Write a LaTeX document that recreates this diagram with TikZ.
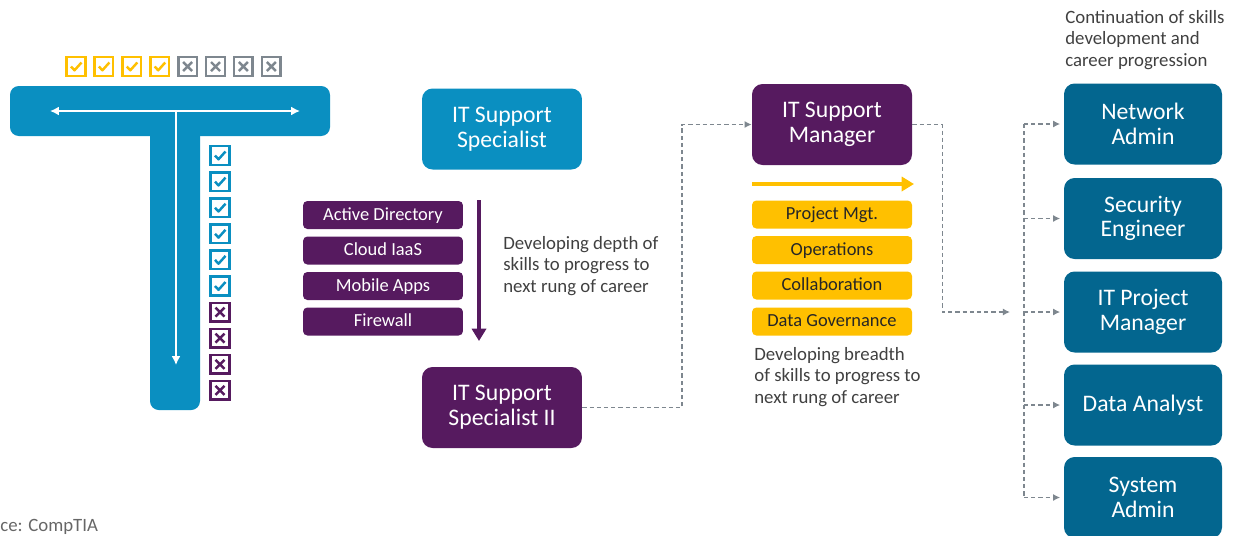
\documentclass[tikz,border=0pt]{standalone}
\usepackage{fontspec}
\setmainfont{Carlito}
\usepackage{tikz}
\usetikzlibrary{arrows.meta,shapes}
\definecolor{tblue}{HTML}{0A8FC1}
\definecolor{plum}{HTML}{561A5F}
\definecolor{deepblue}{HTML}{03668F}
\definecolor{amber}{HTML}{FFC000}
\definecolor{slate}{HTML}{7E878F}
\definecolor{ink}{HTML}{404040}
\tikzstyle{rolebox}=[rectangle,rounded corners=6pt,minimum width=3.2cm,minimum height=1.62cm,inner sep=0pt,align=center,text=white,font=\fontsize{13.5}{14}\selectfont]
\tikzstyle{skillbox}=[rectangle,rounded corners=2.5pt,minimum width=3.2cm,minimum height=0.56cm,inner sep=0pt,text height=7pt,text depth=1pt,font=\fontsize{10.5}{12}\selectfont]
\tikzstyle{note}=[align=left,inner sep=0pt,text=ink,font=\fontsize{10.7}{12.2}\selectfont]
\tikzstyle{flow} = [draw,slate,line width=0.8pt,dash pattern=on 2.4pt off 1.7pt,-{Latex[length=4pt,width=4pt]}]
\tikzstyle{busline} = [draw,slate,line width=0.8pt,dash pattern=on 2.4pt off 1.7pt]
\tikzstyle{boxline} = [line width=1.4pt]
\tikzset{
  pics/okbox/.style={code={
    \draw[boxline,#1] (-9.3,-9.3) rectangle (9.3,9.3);
    \draw[boxline,#1,line join=round] (-5,0) -- (-1.5,3.8) -- (5.5,-4);}},
  pics/nobox/.style={code={
    \draw[boxline,#1] (-9.3,-9.3) rectangle (9.3,9.3);
    \draw[boxline,#1] (-4.5,-4.5) -- (4.5,4.5) (-4.5,4.5) -- (4.5,-4.5);}}
}
\begin{document}
\begin{tikzpicture}[x=0.02cm,y=-0.02cm]
    \useasboundingbox (0,0) rectangle (1239,535);
    \clip (0,0) rectangle (1239,535);
    % The T: a wide bar and a deep stem
    \fill[tblue,rounded corners=5pt] (150,120) rectangle (200,410);
    \fill[tblue,rounded corners=5pt] (10,86) rectangle (330,136);
    \coordinate (tl) at (50,111);
    \coordinate (tr) at (300,111);
    \coordinate (tm) at (176,111);
    \coordinate (tb) at (176,365);
    \draw[white,line width=0.9pt,{Latex[length=5pt,width=5pt]}-{Latex[length=5pt,width=5pt]}] (tl) -- (tr);
    \draw[white,line width=0.9pt,-{Latex[length=5pt,width=5pt]}] (tm) -- (tb);

    % Check boxes along the bar and the stem
    \foreach \i in {0,...,3}
        \pic at (76+27.9*\i,66.5) {okbox=amber};
    \foreach \i in {4,...,7}
        \pic at (76+27.9*\i,66.5) {nobox=slate};
    \foreach \i in {0,...,5}
        \pic at (220,155.5+26.1*\i) {okbox=tblue};
    \foreach \i in {6,...,9}
        \pic at (220,155.5+26.1*\i) {nobox=plum};

    % Roles
    \node[rolebox,fill=tblue] (spec) at (502,129) {IT Support\\Specialist};
    \node[rolebox,fill=plum] (spec2) at (502,407.5) {IT Support\\Specialist II};
    \node[rolebox,fill=plum] (mgr) at (832,124.5) {IT Support\\Manager};
    \foreach \pos/\name/\text in {{(1143,124)/net/Network\\Admin}, {(1143,218.5)/sec/Security\\Engineer}, {(1143,312)/itpm/IT Project\\Manager}, {(1143,405)/data/Data Analyst}, {(1143,497.5)/sys/System\\Admin}}
        \node[rolebox,fill=deepblue,minimum width=3.16cm] (\name) at \pos {\text};

    % Skills in depth and in breadth
    \foreach \y/\name/\text in {215/ad/Active Directory, 250.5/iaas/Cloud IaaS, 286/apps/Mobile Apps, 321.5/fw/Firewall}
        \node[skillbox,fill=plum,text=white] (\name) at (383,\y) {\text};
    \foreach \y/\name/\text in {214.5/pm/Project Mgt., 250/ops/Operations, 285.5/collab/Collaboration, 321.5/gov/Data Governance}
        \node[skillbox,fill=amber,text=black!85] (\name) at (832,\y) {\text};

    \coordinate (dtop) at (479,200);
    \coordinate (dbot) at (479,341);
    \draw[plum,line width=2.3pt,-{Triangle[length=7pt,width=8pt]}] (dtop) -- (dbot);
    \coordinate (bl) at (752,184);
    \coordinate (br) at (914,184);
    \draw[amber,line width=2.8pt,-{Triangle[length=7pt,width=8pt]}] (bl) -- (br);

    % Notes
    \node[note,anchor=west] (depth) at (503,266) {Developing depth of\\skills to progress to\\next rung of career};
    \node[note,anchor=west] (breadth) at (754,377) {Developing breadth\\of skills to progress to\\next rung of career};
    \node[note,anchor=west] (cont) at (1065,40) {Continuation of skills\\development and\\career progression};
    \node[note,anchor=base west,text=black!60] (src) at (0,531) {ce: CompTIA};

    % Career paths
    \coordinate (up) at (682,0);
    \coordinate (hub) at (1010,312);
    \coordinate (bus) at (1024,0);
    \path[flow] (spec2.east) -| (up |- mgr.west) -- (mgr.west);
    \path[flow] (mgr.east) -- ++(30,0) |- (hub);
    \path[busline] (net.west -| bus) -- (sys.west -| bus);
    \foreach \dest in {net,sec,itpm,data,sys}
        \path[flow,shorten >=2pt] (\dest.west -| bus) -- (\dest.west);
\end{tikzpicture}
\end{document}
